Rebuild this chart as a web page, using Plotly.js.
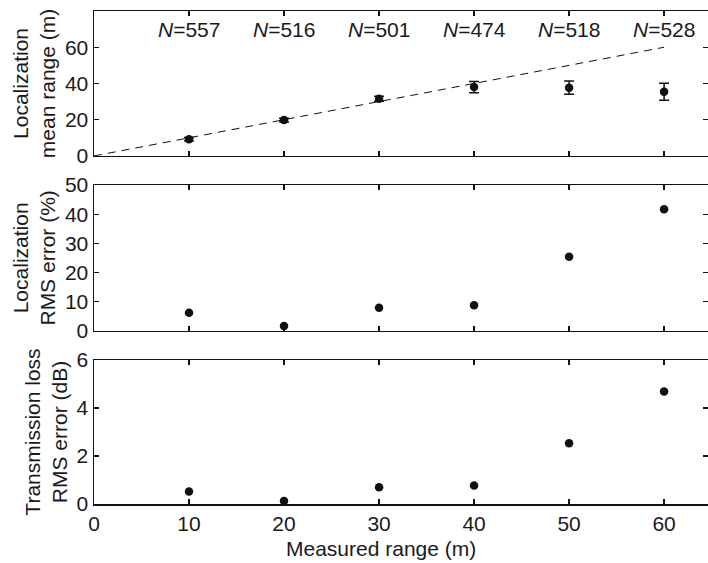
<!DOCTYPE html>
<html>
<head>
<meta charset="utf-8">
<script src="https://cdn.plot.ly/plotly-3.0.1.min.js"></script>
<style>html,body{margin:0;padding:0;background:#fff;overflow:hidden;}#chart{width:708px;height:563px;overflow:hidden;}</style>
</head>
<body>
<div id="chart"></div>
<script>
const ranges = [10, 20, 30, 40, 50, 60];
const nLabels = ["557", "516", "501", "474", "518", "528"];
const meanRange = [9.2, 19.8, 31.6, 38.0, 37.7, 35.4];
const meanErr = [1.0, 1.0, 1.4, 3.1, 3.6, 4.7];
const refX = [0, 60];
const refY = [0, 60];
const locRmsPct = [6.2, 1.6, 7.9, 8.7, 25.4, 41.7];
const tlRmsDb = [0.52, 0.12, 0.70, 0.77, 2.53, 4.69];

const font = {family: 'Liberation Sans, Arial, sans-serif', size: 21, color: '#1a1a1a'};
const mk = {color: '#111', size: 8.5};

const traces = [
  {x: refX, y: refY, mode: 'lines', line: {color: '#111', width: 1, dash: '8px,6px'}, xaxis: 'x', yaxis: 'y', hoverinfo: 'skip'},
  {x: ranges, y: meanRange, mode: 'markers', marker: mk,
   error_y: {type: 'data', array: meanErr, visible: true, color: '#111', thickness: 1.5, width: 5},
   xaxis: 'x', yaxis: 'y'},
  {x: ranges, y: locRmsPct, mode: 'markers', marker: mk, xaxis: 'x2', yaxis: 'y2'},
  {x: ranges, y: tlRmsDb, mode: 'markers', marker: mk, xaxis: 'x3', yaxis: 'y3'}
];

const axBase = {showline: true, linecolor: '#111', linewidth: 1.5, mirror: 'ticks', ticks: 'inside', ticklen: 5, tickwidth: 1.2, tickcolor: '#111', showgrid: false, zeroline: false, tickfont: font, automargin: false};
const W = 708;
const xr = [0, (W + 1 - 94) / 9.517];

const layout = {
  width: W, height: 563,
  margin: {l: 94, r: 0, t: 11, b: 59},
  paper_bgcolor: '#fff', plot_bgcolor: '#fff',
  showlegend: false,
  font: font,
  xaxis: Object.assign({}, axBase, {range: xr, tickvals: ranges, showticklabels: false, anchor: 'y', domain: [0, 1]}),
  yaxis: Object.assign({}, axBase, {range: [0, 80], tickvals: [0, 20, 40, 60], domain: [0.706, 1], anchor: 'x',
    title: {text: 'Localization<br>mean range (m)', font: font, standoff: 3}}),
  xaxis2: Object.assign({}, axBase, {range: xr, tickvals: ranges, showticklabels: false, anchor: 'y2', domain: [0, 1]}),
  yaxis2: Object.assign({}, axBase, {range: [0, 50], tickvals: [0, 10, 20, 30, 40, 50], domain: [0.3515, 0.647], anchor: 'x2',
    title: {text: 'Localization<br>RMS error (%)', font: font, standoff: 3}}),
  xaxis3: Object.assign({}, axBase, {range: xr, tickvals: [0, 10, 20, 30, 40, 50, 60], anchor: 'y3', domain: [0, 1]}),
  yaxis3: Object.assign({}, axBase, {range: [0, 6], tickvals: [0, 2, 4, 6], domain: [0, 0.292], anchor: 'x3',
    title: {text: 'Transmission loss<br>RMS error (dB)', font: font, standoff: 3}}),
  annotations: ranges.map((r, i) => ({
    x: r, y: 70, xref: 'x', yref: 'y', text: '<i>N</i>=' + nLabels[i], showarrow: false, font: font, xanchor: 'center', yanchor: 'middle'
  })).concat([{
    x: (381 - 94) / (W - 94), y: -(548 - 504) / (563 - 11 - 59), xref: 'paper', yref: 'paper', text: 'Measured range (m)', showarrow: false, font: font,
    xanchor: 'center', yanchor: 'middle'
  }])
};

Plotly.newPlot('chart', traces, layout, {displayModeBar: false, staticPlot: true});
</script>
</body>
</html>
